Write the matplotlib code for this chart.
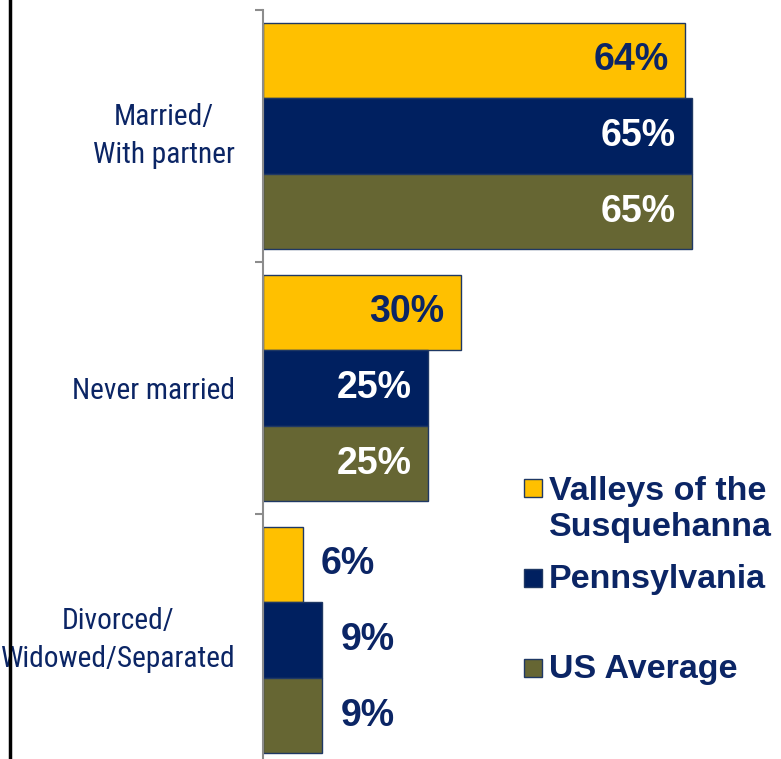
import os
import matplotlib
matplotlib.use("Agg")
import matplotlib.pyplot as plt
from matplotlib.patches import Rectangle
from matplotlib.lines import Line2D
from matplotlib import font_manager
from matplotlib.font_manager import FontProperties
import numpy as np

# data
categories = ["Married/\nWith partner", "Never married", "Divorced/\nWidowed/Separated"]
series_names = ["Valleys of the\nSusquehanna", "Pennsylvania", "US Average"]
valleys = [64, 30, 6]
pennsylvania = [65, 25, 9]
us_average = [65, 25, 9]

colors = ["#FFC000", "#002060", "#666633"]
navy = "#0B2565"

plt.rcParams["font.family"] = ["Liberation Sans", "DejaVu Sans"]


def find_narrow():
    # the category labels are in a narrow sans, take whatever we have
    prefs = ["liberationsansnarrow-regular", "arialn.", "arial narrow",
             "robotocondensed-regular", "notosans-condensed.",
             "notosans-condensedregular", "dejavusanscondensed."]
    files = [f.fname for f in font_manager.fontManager.ttflist]
    for p in prefs:
        for fn in files:
            if p in os.path.basename(fn).lower():
                return fn
    return None


narrow_file = find_narrow()
if narrow_file:
    cat_fp = FontProperties(fname=narrow_file)
else:
    cat_fp = FontProperties(family="Liberation Sans")

W, H = 781, 759
fig = plt.figure(figsize=(W / 100, H / 100), dpi=100)
renderer = fig.canvas.get_renderer()

# size the category font so "Never married" is ~163 px wide
probe = fig.text(0, 0, "Never married", fontproperties=cat_fp, fontsize=20)
w20 = probe.get_window_extent(renderer).width
probe.remove()
cat_size = 20 * 163 / w20
cat_fp.set_size(cat_size)
cat_ls = 38 / (0.875 * cat_size * 100 / 72)

# axes box in pixels: left 263, top 10, one group = 252 px
ax = fig.add_axes([263 / W, 1 - 766 / H, (W - 263) / W, 756 / H])

y = np.arange(len(categories))
bar_h = 0.3
offsets = [-0.3, 0.0, 0.3]
values = [valleys, pennsylvania, us_average]

for vals, off, col in zip(values, offsets, colors):
    bars = ax.barh(y + off, vals, height=bar_h, color=col,
                   edgecolor="#1F3864", linewidth=1)
    for b, v in zip(bars, vals):
        yc = b.get_y() + b.get_height() / 2
        if v >= 20:
            tc = navy if col == "#FFC000" else "white"
            ax.annotate(f"{v}%", (v, yc), xytext=(-12, 0), textcoords="offset points",
                        ha="right", va="center", fontsize=27, fontweight="bold", color=tc)
        else:
            ax.annotate(f"{v}%", (v, yc), xytext=(13, 0), textcoords="offset points",
                        ha="left", va="center", fontsize=27, fontweight="bold", color=navy)

ax.set_xlim(0, (W - 263) / 6.6)
ax.set_ylim(2.5, -0.5)

for s in ["top", "right", "bottom"]:
    ax.spines[s].set_visible(False)
ax.spines["left"].set_color("#8C8C8C")
ax.spines["left"].set_linewidth(1.5)
ax.xaxis.set_visible(False)

ax.set_yticks(y)
ax.set_yticklabels(categories, fontproperties=cat_fp, color=navy)
for lab in ax.get_yticklabels():
    lab.set_multialignment("center")
    lab.set_linespacing(cat_ls)
    if "\n" in lab.get_text():
        lab.set_verticalalignment("center")
ax.set_yticks([-0.5, 0.5, 1.5, 2.5], minor=True)
ax.tick_params(axis="y", which="major", length=0, pad=20)
ax.tick_params(axis="y", which="minor", length=6, width=1.5, color="#8C8C8C")

# black border line at far left
fig.add_artist(Line2D([9.5 / W, 9.5 / W], [0, 1], color="black", lw=2.5))

# legend, drawn by hand to keep the uneven spacing
baselines = [498, 588, 678]
step = 38
for name, col, base in zip(series_names, colors, baselines):
    sq = 18
    fig.add_artist(Rectangle((524 / W, 1 - (base - 10 + sq / 2) / H), sq / W, sq / H,
                             facecolor=col, edgecolor="#1F3864", linewidth=1,
                             transform=fig.transFigure))
    nl = name.count("\n")
    fig.text(549 / W, 1 - (base + step * nl) / H, name, ha="left", va="baseline",
             fontsize=24.5, fontweight="bold", color=navy, linespacing=1.2)

fig.savefig("out.png", dpi=100)
